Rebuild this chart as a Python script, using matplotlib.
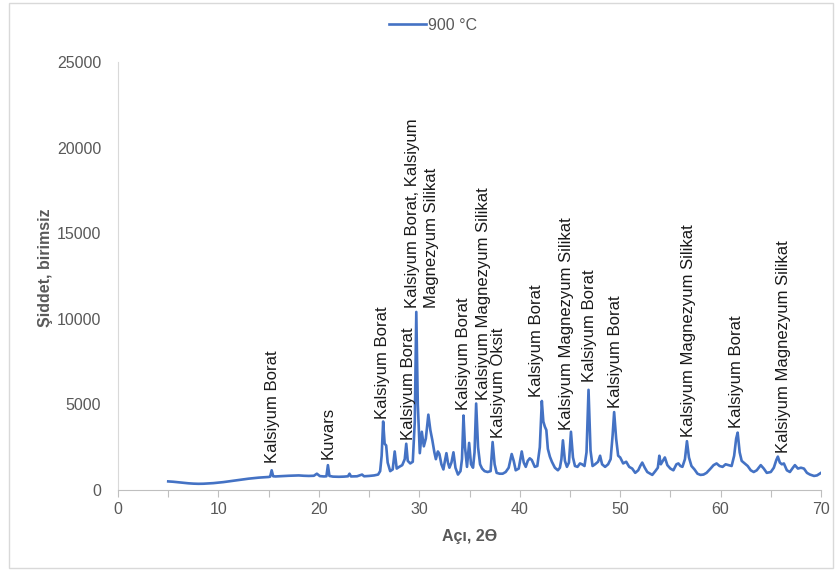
import matplotlib
matplotlib.use("Agg")
import matplotlib.pyplot as plt
from matplotlib.patches import Rectangle

plt.rcParams['font.family'] = ['Liberation Sans', 'DejaVu Sans']

# ---- data ----
angle = [5.0, 5.5, 6.0, 6.5, 7.0, 7.5, 8.0, 8.5, 9.0, 9.5, 10.0, 10.5, 11.0, 11.5, 12.0, 12.5,
         13.0, 13.5, 14.0, 14.5, 15.0, 15.15, 15.3, 15.45, 15.7, 16.0, 16.5, 17.0, 17.5, 18.0,
         18.5, 19.0, 19.5, 19.8, 20.1, 20.5, 20.75, 20.9, 21.05, 21.4, 22.0, 22.5, 22.9, 23.05,
         23.2, 23.8, 24.3, 24.5, 25.0, 25.5, 25.9, 26.1, 26.25, 26.4, 26.55, 26.7, 26.85, 27.1,
         27.35, 27.55, 27.75, 28.0, 28.3, 28.55, 28.7, 28.85, 29.1, 29.35, 29.55, 29.7, 29.85,
         30.05, 30.25, 30.45, 30.65, 30.9, 31.1, 31.3, 31.5, 31.65, 31.85, 32.0, 32.2, 32.4,
         32.55, 32.7, 32.85, 33.0, 33.2, 33.4, 33.6, 33.85, 34.1, 34.25, 34.4, 34.55, 34.75,
         34.96, 35.15, 35.35, 35.5, 35.66, 35.85, 36.05, 36.25, 36.5, 36.8, 37.1, 37.3, 37.5,
         37.7, 38.0, 38.3, 38.6, 38.9, 39.2, 39.4, 39.6, 39.9, 40.2, 40.4, 40.6, 40.8, 41.0,
         41.2, 41.5, 41.75, 42.0, 42.2, 42.35, 42.5, 42.65, 42.8, 43.0, 43.2, 43.5, 43.8, 44.0,
         44.15, 44.3, 44.5, 44.7, 44.9, 45.1, 45.3, 45.5, 45.75, 46.0, 46.2, 46.45, 46.65, 46.85,
         47.05, 47.25, 47.5, 47.8, 48.0, 48.2, 48.5, 48.8, 49.05, 49.25, 49.4, 49.6, 49.8, 50.0,
         50.3, 50.6, 50.9, 51.2, 51.5, 51.8, 52.0, 52.2, 52.45, 52.7, 53.0, 53.2, 53.5, 53.75,
         53.9, 54.05, 54.2, 54.45, 54.7, 55.0, 55.3, 55.6, 55.8, 56.0, 56.2, 56.45, 56.65, 56.85,
         57.1, 57.4, 57.7, 58.0, 58.3, 58.6, 59.0, 59.3, 59.6, 59.9, 60.2, 60.5, 60.8, 61.1,
         61.35, 61.55, 61.7, 61.9, 62.1, 62.4, 62.7, 63.0, 63.3, 63.6, 64.0, 64.3, 64.6, 65.0,
         65.3, 65.55, 65.7, 65.9, 66.1, 66.3, 66.6, 66.9, 67.2, 67.4, 67.7, 68.0, 68.3, 68.6,
         68.9, 69.3, 69.6, 70.0]
intensity = [500, 480, 450, 420, 390, 370, 360, 365, 380, 400, 430, 460, 500, 540, 580, 620,
             660, 690, 720, 740, 760, 780, 1150, 800, 790, 800, 820, 830, 840, 850,
             830, 820, 830, 950, 810, 790, 800, 1450, 820, 780, 770, 780, 800, 950,
             790, 800, 900, 800, 820, 850, 900, 1100, 2000, 4000, 2700, 2600, 1600, 1100,
             1200, 2250, 1250, 1350, 1450, 1800, 2700, 1700, 1550, 1650, 4000, 10400, 5000,
             2150, 3400, 2550, 3000, 4400, 3500, 2900, 2200, 1800, 2250, 2100, 1500, 1200,
             1700, 2150, 1600, 1300, 1600, 2200, 1300, 900, 1100, 1800, 4350, 2500, 1350,
             2750, 1500, 1300, 2200, 5050, 2500, 1500, 1250, 1100, 1050, 1100, 2800, 1500,
             1000, 950, 950, 1050, 1300, 2100, 1700, 1150, 1250, 2250, 1600, 1350, 1700, 1850,
             1750, 1350, 1400, 2500, 5200, 4000, 3700, 3500, 2400, 1950, 1650, 1300, 1150, 1300,
             1800, 2900, 1700, 1350, 1600, 3400, 1900, 1400, 1350, 1550, 1500, 1400, 2200, 5850,
             2300, 1400, 1500, 1650, 2000, 1500, 1350, 1500, 1800, 3200, 4550, 3000, 2000, 1900,
             1550, 1650, 1350, 1250, 1000, 1150, 1400, 1600, 1300, 1050, 950, 880, 1100, 1300,
             2000, 1500, 1650, 1900, 1450, 1250, 1150, 1500, 1550, 1400, 1350, 1800, 2850, 1900,
             1400, 1200, 950, 880, 900, 1000, 1250, 1450, 1550, 1400, 1350, 1500, 1450, 1400,
             2000, 3000, 3350, 2200, 1700, 1550, 1400, 1150, 1050, 1150, 1450, 1250, 1000, 1050,
             1300, 1750, 1950, 1600, 1500, 1550, 1150, 1050, 1300, 1450, 1250, 1300, 1250, 1000,
             900, 820, 850, 1000]

series_name = "900 °C"

peak_labels = ["Kalsiyum Borat", "Kuvars", "Kalsiyum Borat", "Kalsiyum Borat",
               "Kalsiyum Borat, Kalsiyum\nMagnezyum Silikat", "Kalsiyum Borat",
               "Kalsiyum Magnezyum Silikat", "Kalsiyum Oksit", "Kalsiyum Borat",
               "Kalsiyum Magnezyum Silikat", "Kalsiyum Borat", "Kalsiyum Borat",
               "Kalsiyum Magnezyum Silikat", "Kalsiyum Borat", "Kalsiyum Magnezyum Silikat"]
label_x = [15.34, 20.89, 26.36, 28.9, 30.25, 34.39, 36.38, 37.88, 41.7, 44.69, 46.91, 49.5,
           56.8, 61.55, 66.26]
label_y = [1580, 1810, 4150, 2920, 10630, 4670, 5260, 3040, 5450, 3500, 6320, 4790, 3110,
           3600, 2140]

x_ticks = [0, 10, 20, 30, 40, 50, 60, 70]
y_ticks = [0, 5000, 10000, 15000, 20000, 25000]

# ---- figure ----
fig = plt.figure(figsize=(8.4, 5.7), dpi=100)
ax = fig.add_axes([0.1405, 0.1404, 0.8369, 0.7508])

gray = "#595959"
ax.plot(angle, intensity, color="#4472C4", lw=1.9, label=series_name)

for txt, lx, ly in zip(peak_labels, label_x, label_y):
    ax.text(lx, ly, txt, rotation=90, ha="center", va="bottom",
            multialignment="left", fontsize=12, color="#1a1a1a", linespacing=1.3)

ax.set_xlim(0, 70)
ax.set_ylim(0, 25000)
ax.set_xticks(x_ticks)
ax.set_xticks(range(0, 71, 5), minor=True)
ax.set_yticks(y_ticks)
ax.tick_params(axis="x", which="both", direction="out", length=5, width=0.8,
               color="#bfbfbf", labelcolor=gray, labelsize=11.5, pad=4)
ax.tick_params(axis="y", length=0, labelcolor=gray, labelsize=11.5, pad=12)

for s in ["top", "right"]:
    ax.spines[s].set_visible(False)
ax.spines["left"].set_color("#d9d9d9")
ax.spines["bottom"].set_color("#bfbfbf")
ax.spines["left"].set_linewidth(0.8)
ax.spines["bottom"].set_linewidth(0.8)

ax.set_xlabel("Açı, 2Ө", fontsize=11.5, fontweight="bold", color=gray, labelpad=8)
ax.set_ylabel("Şiddet, birimsiz", fontsize=11.5, fontweight="bold", color=gray)
ax.yaxis.set_label_coords(-0.092, 0.52)

leg = ax.legend(loc="center", bbox_to_anchor=(0.448, 1.0864), frameon=False,
                fontsize=11.5, handlelength=2.3, handletextpad=0.15, labelcolor=gray,
                borderpad=0)

fig.patches.append(Rectangle((0.011, 0.004), 0.981, 0.99, transform=fig.transFigure,
                             fill=False, edgecolor="#d9d9d9", lw=1.0))

fig.savefig("out.png", dpi=100)
